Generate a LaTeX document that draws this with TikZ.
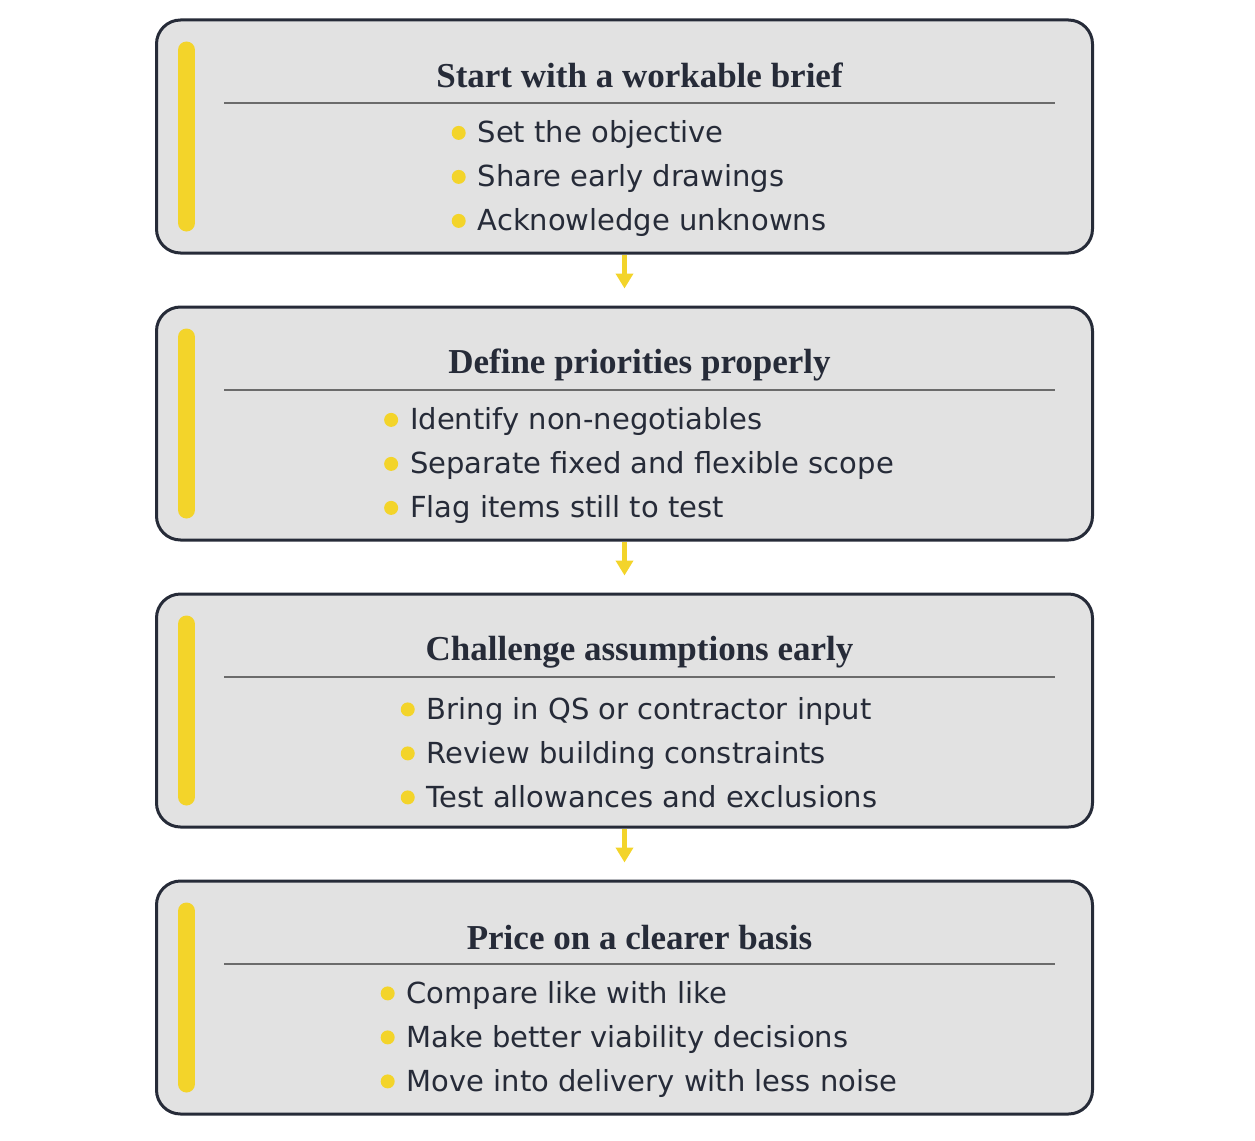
\documentclass[tikz,border=0pt]{standalone}
\usepackage{fontspec}
\setmainfont{DejaVu Sans}
\newfontfamily\titlefont{Liberation Serif}
\usetikzlibrary{positioning,arrows.meta}

\definecolor{boxfill}{HTML}{E2E2E2}
\definecolor{boxline}{HTML}{262B38}
\definecolor{accent}{HTML}{F3D42A}
\definecolor{rulegray}{HTML}{6B6B6B}

\tikzset{
  stage/.style={draw=boxline, line width=3pt, fill=boxfill,
    rounded corners=24pt, minimum width=936pt, minimum height=233pt},
  heading/.style={font=\titlefont\bfseries\fontsize{35}{40}\selectfont,
    text=boxline, anchor=base, inner sep=0pt},
  item/.style={font=\fontsize{29}{44}\selectfont, text=boxline,
    anchor=base west, inner sep=0pt, text height=30pt, text depth=14pt},
  dot/.style={circle, fill=accent, minimum size=14pt, inner sep=0pt, yshift=17pt},
  bar/.style={draw=accent, line width=17pt, line cap=round},
  titlerule/.style={draw=rulegray, line width=2pt},
  flow/.style={draw=accent, line width=5pt,
    -{Triangle[width=17pt,length=15pt]}, shorten >=17pt},
  items/.style={matrix, column sep=12pt, row sep=0pt, inner sep=0pt, anchor=north}
}

\begin{document}
\begin{tikzpicture}[x=1pt,y=-1pt,node distance=51pt]

\useasboundingbox (0,0) rectangle (1255,1140);

% Stages
\node[stage] (brief) at (624.5,136.5) {};
\node[stage, below=of brief] (priorities) {};
\node[stage, below=of priorities] (assumptions) {};
\node[stage, below=of assumptions] (basis) {};

% Accent bars
\draw[bar] ([xshift=31.5pt,yshift=-31.5pt]brief.north west) -- ([xshift=31.5pt,yshift=31.5pt]brief.south west);
\draw[bar] ([xshift=31.5pt,yshift=-31.5pt]priorities.north west) -- ([xshift=31.5pt,yshift=31.5pt]priorities.south west);
\draw[bar] ([xshift=31.5pt,yshift=-31.5pt]assumptions.north west) -- ([xshift=31.5pt,yshift=31.5pt]assumptions.south west);
\draw[bar] ([xshift=31.5pt,yshift=-31.5pt]basis.north west) -- ([xshift=31.5pt,yshift=31.5pt]basis.south west);

% Headings
\node[heading] (brief title) at ([xshift=15pt,yshift=-69.5pt]brief.north) {Start with a workable brief};
\node[heading] (priorities title) at ([xshift=15pt,yshift=-68pt]priorities.north) {Define priorities properly};
\node[heading] (assumptions title) at ([xshift=15pt,yshift=-68pt]assumptions.north) {Challenge assumptions early};
\node[heading] (basis title) at ([xshift=15pt,yshift=-70pt]basis.north) {Price on a clearer basis};

% Heading rules
\draw[titlerule]
  ([xshift=69pt,yshift=-84pt]brief.north west) -- ([xshift=-39pt,yshift=-84pt]brief.north east)
  ([xshift=69pt,yshift=-84pt]priorities.north west) -- ([xshift=-39pt,yshift=-84pt]priorities.north east)
  ([xshift=69pt,yshift=-84pt]assumptions.north west) -- ([xshift=-39pt,yshift=-84pt]assumptions.north east)
  ([xshift=69pt,yshift=-84pt]basis.north west) -- ([xshift=-39pt,yshift=-84pt]basis.north east);

% Bullet lists
\node[items] (brief list) at ([xshift=14.5pt,yshift=-94pt]brief.north) {
\node[dot] {}; & \node[item] {Set the objective}; \\
\node[dot] {}; & \node[item] {Share early drawings}; \\
\node[dot] {}; & \node[item] {Acknowledge unknowns}; \\
};

\node[items] (priorities list) at ([xshift=14.5pt,yshift=-94pt]priorities.north) {
\node[dot] {}; & \node[item] {Identify non-negotiables}; \\
\node[dot] {}; & \node[item] {Separate fixed and flexible scope}; \\
\node[dot] {}; & \node[item] {Flag items still to test}; \\
};

\node[items] (assumptions list) at ([xshift=14.5pt,yshift=-96.5pt]assumptions.north) {
\node[dot] {}; & \node[item] {Bring in QS or contractor input}; \\
\node[dot] {}; & \node[item] {Review building constraints}; \\
\node[dot] {}; & \node[item] {Test allowances and exclusions}; \\
};

\node[items] (basis list) at ([xshift=14.5pt,yshift=-93.5pt]basis.north) {
\node[dot] {}; & \node[item] {Compare like with like}; \\
\node[dot] {}; & \node[item] {Make better viability decisions}; \\
\node[dot] {}; & \node[item] {Move into delivery with less noise}; \\
};

% Flows between stages
\draw[flow] (brief) -- (priorities);
\draw[flow] (priorities) -- (assumptions);
\draw[flow] (assumptions) -- (basis);

\end{tikzpicture}
\end{document}
